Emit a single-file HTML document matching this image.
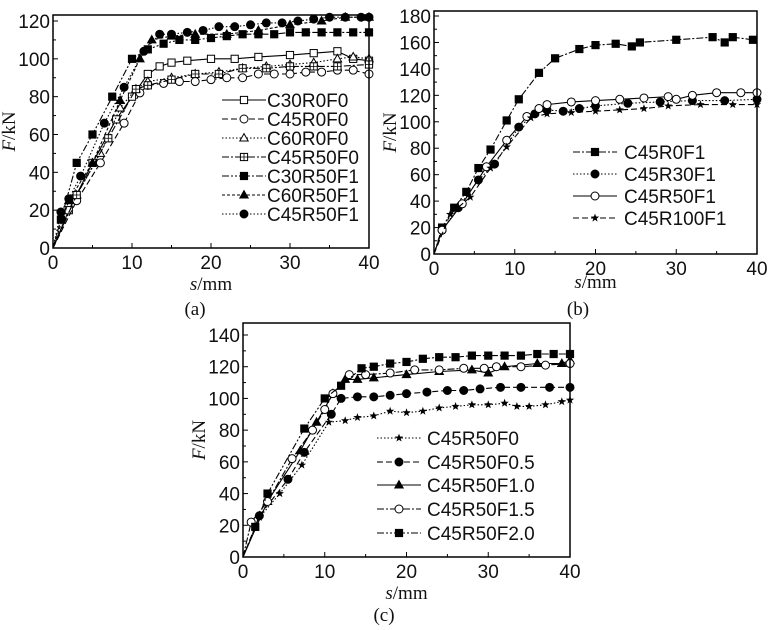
<!DOCTYPE html>
<html><head><meta charset="utf-8">
<style>
body{margin:0;background:#fff;width:772px;height:630px;overflow:hidden}
svg{display:block}
.tk{font:19px "Liberation Sans",sans-serif;fill:#111}
.lg{font:19px "Liberation Sans",sans-serif;fill:#111}
.ti{font:19px "Liberation Serif",serif;fill:#111}
</style></head>
<body>
<svg id="c" width="772" height="630" viewBox="0 0 772 630" xmlns="http://www.w3.org/2000/svg"></svg>
<script>
// ---- Panel (a) data ----
const aNames=["C30R0F0","C45R0F0","C60R0F0","C45R50F0","C30R50F1","C60R50F1","C45R50F1"];
const aX1=[0,2,5,8,10,12,13.5,15,17,20,23,26,30,33,36,38,40];
const aY1=[0,20,45,68,80,92,96,98,99,100,100,101,102,103,104,100,99];
const aX2=[0,3,6,9,11,12,14,16,18,20,22,24,26,28,30,32,34,36,38,40];
const aY2=[0,25,45,66,82,86,87,88,88,89,90,90,92,92,92,93,93,94,94,92];
const aX3=[0,3,6,8.5,10.5,12,15,18,21,24,27,30,33,36,38,40];
const aY3=[0,28,50,74,84,88,90,92,93,95,96,97,98,100,101,100];
const aX4=[0,3,7,10.5,12,15,18,21,24,27,30,33,36,40];
const aY4=[0,28,58,84,86,89,92,92,95,95,96,96,96,97];
const aX5=[0,1,3,5,7.5,10,12,14,16,18,20,22,24,26,28,30,32,34,36,38,40];
const aY5=[0,15,45,60,80,100,105,108,110,110,111,112,113,113,113,114,114,114,114,114,114];
const aX6=[0,2,5,8.5,11,12.5,15,18,22,26,30,34,37,40];
const aY6=[0,25,45,78,100,110,112,113,113,115,118,120,122,122];
const aX7=[0,1,2,3.5,6.5,9,11.5,13.5,15,17,19,21,23,25,27,29,31,33,35,37,39,40];
const aY7=[0,19,26,38,66,85,104,113,113,114,115,117,117,118,119,119,120,121,122,122,122,122];
// ---- Panel (b) data ----
const bNames=["C45R0F1","C45R30F1","C45R50F1","C45R100F1"];
const bX1=[0,1,2.5,4,5.5,7,9,10.5,13,15,18,20,22.5,24.5,25.5,30,34.5,36,37,39.5];
const bY1=[0,20,35,47,65,79,101,117,137,148,155,158,159,157,160,162,164,160,164,162];
const bX2=[0,1,3,5.5,7.5,10.5,12.5,14,16,18,20,24,28,32,36,40];
const bY2=[0,18,35,56,68,96,106,109,108,110,112,114,115,116,116,117];
const bX3=[0,1,3.5,6.5,9,11.5,13,14,17,20,23,26,29,30,32,35,38,40];
const bY3=[0,18,38,66,86,104,110,113,115,116,117,118,119,117,120,122,122,122];
const bX4=[0,2,4.5,7,9,12,14,17,20,23,26,29,33,37,40];
const bY4=[0,30,43,65,81,103,106,107,108,109,110,112,113,113,113];
// ---- Panel (c) data ----
const cNames=["C45R50F0","C45R50F0.5","C45R50F1.0","C45R50F1.5","C45R50F2.0"];
const cX1=[0,2,4.5,7.2,10.5,12.5,14,16,18,20,22,24,26,28,30,32,33.5,35,37,39,40];
const cY1=[0,25,40,58,85,86,88,89,92,91,92,94,95,96,96,97,95,95,96,98,99];
const cX2=[0,2,5.5,7.5,10.8,12,14,16,18,20,22.5,25,27,29,31.5,34,37.5,40];
const cY2=[0,26,49,66,90,100,101,101,102,103,104,105,105,106,107,107,107,107];
const cX3=[0,3,7,9,11,12.5,14,16,20,24,28,30,32,36,39,40];
const cY3=[0,35,67,85,103,112,112,113,115,117,118,116,120,122,122,124];
const cX4=[0,1,3,6,8.5,10,11,13,15,18,21,24,27,29.5,31,34,37,40];
const cY4=[0,22,35,62,80,93,103,115,115,116,118,118,119,119,120,120,121,122];
const cX5=[0,1.5,3,7.5,10,12,14.5,16,18,20,22,24,26,28,30,32,34,36,38,40];
const cY5=[0,19,40,81,100,108,119,120,122,123,125,126,126,127,127,127,127,128,128,128];

const NS="http://www.w3.org/2000/svg";
const svg=document.getElementById('c');
function el(t,a,p){const e=document.createElementNS(NS,t);for(const k in a)e.setAttribute(k,a[k]);(p||svg).appendChild(e);return e;}
const DASH={solid:"",dash:"6,3",dot:"1.5,2",dd:"7,2,2,2",ddd:"7,2,2,2,2,2",sdash:"3,2"};
function marker(g,kind,x,y){
  const r=3.6;let m;
  if(kind==='osq'||kind==='fsq'||kind==='xsq'){m=el('rect',{x:x-r,y:y-r,width:2*r,height:2*r,fill:kind==='fsq'?'#000':'#fff',stroke:'#000','stroke-width':1},g);
    if(kind==='xsq'){el('path',{d:`M${x-r} ${y}H${x+r}M${x} ${y-r}V${y+r}`,stroke:'#000','stroke-width':0.8},g);}}
  else if(kind==='oc'||kind==='fc'){m=el('circle',{cx:x,cy:y,r:r+0.4,fill:kind==='fc'?'#000':'#fff',stroke:'#000','stroke-width':1},g);}
  else if(kind==='otri'||kind==='ftri'){m=el('polygon',{points:`${x},${y-r-0.8} ${x+r+0.6},${y+r-0.6} ${x-r-0.6},${y+r-0.6}`,fill:kind==='ftri'?'#000':'#fff',stroke:'#000','stroke-width':1},g);}
  else if(kind==='star'){let p=[];for(let i=0;i<10;i++){const a=-Math.PI/2+i*Math.PI/5,rr=i%2?1.8:4.4;p.push((x+rr*Math.cos(a)).toFixed(1)+','+(y+rr*Math.sin(a)).toFixed(1));}m=el('polygon',{points:p.join(' '),fill:'#000'},g);}
  
  
}
function panel(P){
  const g=el('g',{});
  
  
  const sx=v=>P.x0+(v-0)/40*(P.x1-P.x0);
  const sy=v=>P.y0-v/P.ymax*(P.y0-P.yt);
  for(let v=0;v<=40;v+=5){const x=sx(v);el('line',{x1:x,x2:x,y1:P.y0,y2:P.y0-(v%10?3:5),stroke:'#000','stroke-width':1},g);
    if(v%10===0){const t=el('text',{x:x,y:P.y0+21,'text-anchor':'middle',class:'tk'},g);t.textContent=v;}}
  for(let v=0;v<=P.ymax;v+=P.ystep/2){const y=sy(v);const maj=Math.abs(v/P.ystep-Math.round(v/P.ystep))<1e-6;
    el('line',{x1:P.x0,x2:P.x0+(maj?5:3),y1:y,y2:y,stroke:'#000','stroke-width':1},g);
    if(maj){const t=el('text',{x:P.x0-3,y:y+7,'text-anchor':'end',class:'tk'},g);t.textContent=v;}}
  P.series.forEach(s=>{
    const sg=el('g',{},g);
    
    
    const d=s.xs.map((v,i)=>(i?'L':'M')+sx(v).toFixed(1)+' '+sy(s.ys[i]).toFixed(1)).join('');
    el('path',{d:d,fill:'none',stroke:'#000','stroke-width':1.1,'stroke-dasharray':DASH[s.dash]},sg);
    s.xs.forEach((v,i)=>{if(i>0)marker(sg,s.mk,sx(v),sy(s.ys[i]));});
  });
  const fr=el('rect',{x:P.x0,y:P.top,width:P.x1-P.x0,height:P.y0-P.top,fill:'none',stroke:'#000','stroke-width':1.5},g);
  
  P.series.forEach((s,i)=>{
    const y=P.ly[i];
    const lg=el('g',{},g);
    
    
    el('line',{x1:P.lx,x2:P.lx+44,y1:y,y2:y,stroke:'#000','stroke-width':1.1,'stroke-dasharray':DASH[s.dash]},lg);
    marker(lg,s.mk,P.lx+22,y);
    const t=el('text',{x:P.lt,y:y+7,class:'lg'},lg);t.textContent=s.name;
  });
  const yt=el('text',{class:'ti',transform:`translate(${P.x0-P.ytOff},${(P.top+P.y0)/2}) rotate(-90)`,'text-anchor':'middle'},g);
  yt.innerHTML='<tspan font-style="italic">F</tspan>/kN';
  
  const xt=el('text',{class:'ti',x:(P.x0+P.x1)/2,y:P.y0+P.xtOff,'text-anchor':'middle'},g);
  xt.innerHTML='<tspan font-style="italic">s</tspan>/mm';
  
  const cp=el('text',{class:'ti',x:P.capx,y:P.capy,'text-anchor':'middle','font-size':'16px'},g);
  cp.textContent=P.cap;
}
panel({id:'panel-a',x0:53,x1:369,y0:248,yt:21,top:15,ymax:120,ystep:20,lx:222,lt:267,ly:[100,119,138,157,176,195,214],ytOff:38,xtOff:42,capx:195,capy:315,cap:'(a)',
 series:[
 {name:aNames[0],xs:aX1,ys:aY1,dash:'solid',mk:'osq'},
 {name:aNames[1],xs:aX2,ys:aY2,dash:'dash',mk:'oc'},
 {name:aNames[2],xs:aX3,ys:aY3,dash:'dot',mk:'otri'},
 {name:aNames[3],xs:aX4,ys:aY4,dash:'dd',mk:'xsq'},
 {name:aNames[4],xs:aX5,ys:aY5,dash:'ddd',mk:'fsq'},
 {name:aNames[5],xs:aX6,ys:aY6,dash:'sdash',mk:'ftri'},
 {name:aNames[6],xs:aX7,ys:aY7,dash:'dot',mk:'fc'}]});
panel({id:'panel-b',x0:434,x1:757,y0:254,yt:16,top:11,ymax:180,ystep:20,lx:573,lt:624,ly:[152,174,196,218],ytOff:38,xtOff:34,capx:578,capy:315,cap:'(b)',
 series:[
 {name:bNames[0],xs:bX1,ys:bY1,dash:'dd',mk:'fsq'},
 {name:bNames[1],xs:bX2,ys:bY2,dash:'dot',mk:'fc'},
 {name:bNames[2],xs:bX3,ys:bY3,dash:'solid',mk:'oc'},
 {name:bNames[3],xs:bX4,ys:bY4,dash:'dash',mk:'star'}]});
panel({id:'panel-c',x0:243,x1:570,y0:557,yt:335,top:323,ymax:140,ystep:20,lx:377,lt:427,ly:[438,462,485,509,533],ytOff:38,xtOff:42,capx:384,capy:621,cap:'(c)',
 series:[
 {name:cNames[0],xs:cX1,ys:cY1,dash:'dot',mk:'star'},
 {name:cNames[1],xs:cX2,ys:cY2,dash:'dash',mk:'fc'},
 {name:cNames[2],xs:cX3,ys:cY3,dash:'solid',mk:'ftri'},
 {name:cNames[3],xs:cX4,ys:cY4,dash:'dd',mk:'oc'},
 {name:cNames[4],xs:cX5,ys:cY5,dash:'ddd',mk:'fsq'}]});
</script>
</body></html>
